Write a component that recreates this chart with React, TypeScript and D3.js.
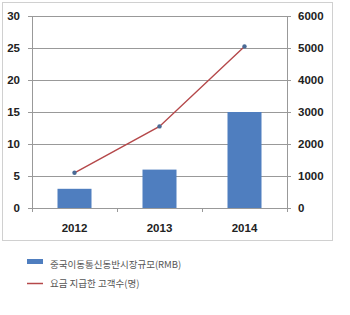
import React from "react";
import * as d3 from "d3";

const categories = ["2012", "2013", "2014"];
const marketSize = [3, 6, 15];
const payingCustomers = [1100, 2550, 5050];
const leftTicks = [0, 5, 10, 15, 20, 25, 30];
const rightTicks = [0, 1000, 2000, 3000, 4000, 5000, 6000];
const legendLabels = ["중국이동통신동반시장규모(RMB)", "요금 지급한 고객수(명)"];

const W = 350, H = 315;
const left = 32, right = 287, top = 16, bottom = 208;

export default function App() {
  const x = d3.scaleBand().domain(categories).range([left, right]).paddingInner(0).paddingOuter(0);
  const yL = d3.scaleLinear().domain([0, 30]).range([bottom, top]);
  const yR = d3.scaleLinear().domain([0, 6000]).range([bottom, top]);
  const barW = 34;
  const line = d3.line<number>()
    .x((_, i) => (x(categories[i]) as number) + x.bandwidth() / 2)
    .y((d) => yR(d));
  const font = "'Liberation Sans', Arial, sans-serif";
  const axisColor = "#999";
  return (
    <svg width={W} height={H} style={{ position: "absolute", left: 0, top: 0, background: "#fff" }}>
      <rect x={2.5} y={2.5} width={330} height={238} fill="#fff" stroke="#d0d0d0" strokeWidth={1} />
      {leftTicks.map((t) => (
        <line key={"g" + t} x1={left - 4} x2={right + 4} y1={Math.round(yL(t)) + 0.5} y2={Math.round(yL(t)) + 0.5}
          stroke={axisColor} strokeWidth={1} />
      ))}
      <line x1={left + 0.5} x2={left + 0.5} y1={top} y2={bottom + 4} stroke={axisColor} />
      <line x1={right + 0.5} x2={right + 0.5} y1={top} y2={bottom + 4} stroke={axisColor} />
      {categories.map((c, i) => i > 0 ? (
        <line key={"t" + c} x1={(x(c) as number) + 0.5} x2={(x(c) as number) + 0.5} y1={bottom} y2={bottom + 4} stroke={axisColor} />
      ) : null)}
      {categories.map((c, i) => (
        <rect key={"b" + c} x={(x(c) as number) + x.bandwidth() / 2 - barW / 2} y={yL(marketSize[i])}
          width={barW} height={bottom - yL(marketSize[i])} fill="#4F7EBF" />
      ))}
      <path d={line(payingCustomers) as string} fill="none" stroke="#B5484A" strokeWidth={1.4} />
      {payingCustomers.map((v, i) => (
        <circle key={"m" + i} cx={(x(categories[i]) as number) + x.bandwidth() / 2} cy={yR(v)} r={2.2} fill="#4A6A95" />
      ))}
      {leftTicks.map((t) => (
        <text key={"l" + t} x={20} y={yL(t)} dy="0.35em" textAnchor="end" fontFamily={font} fontWeight="bold"
          fontSize={11.5} fill="#222">{t}</text>
      ))}
      {rightTicks.map((t) => (
        <text key={"r" + t} x={298} y={yR(t)} dy="0.35em" textAnchor="start" fontFamily={font} fontWeight="bold"
          fontSize={11.5} fill="#222">{t}</text>
      ))}
      {categories.map((c) => (
        <text key={"x" + c} x={(x(c) as number) + x.bandwidth() / 2} y={228} dy="0.35em" textAnchor="middle"
          fontFamily={font} fontWeight="bold" fontSize={11.5} fill="#222">{c}</text>
      ))}
      <rect x={27} y={259} width={16} height={5} fill="#4F7EBF" />
      <text x={50} y={265} dy="0.35em" fontFamily="'Noto Sans CJK KR', sans-serif" fontSize={9.5} fill="#555">{legendLabels[0]}</text>
      <line x1={27} x2={43} y1={283.5} y2={283.5} stroke="#B5484A" strokeWidth={1.5} />
      <text x={50} y={284} dy="0.35em" fontFamily="'Noto Sans CJK KR', sans-serif" fontSize={9.5} fill="#555">{legendLabels[1]}</text>
    </svg>
  );
}
